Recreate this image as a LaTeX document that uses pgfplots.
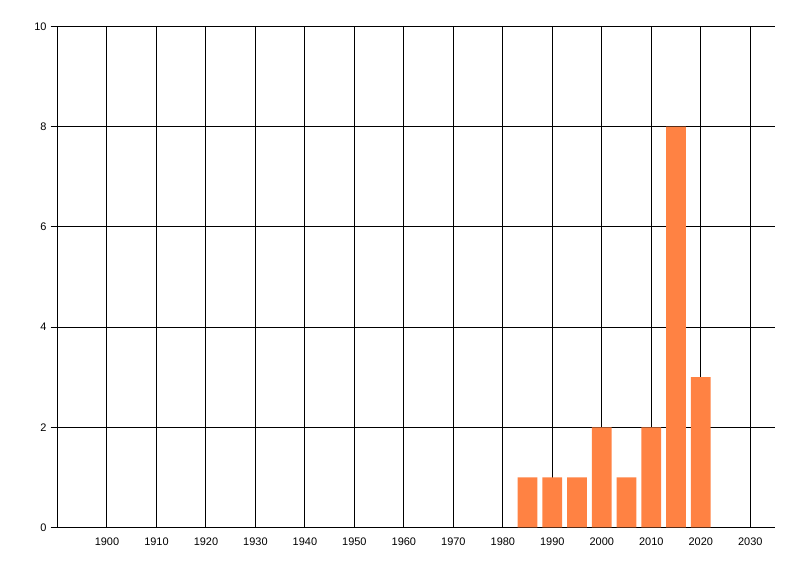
\documentclass[border=0pt]{standalone}
\usepackage{fontspec}
\setmainfont{Liberation Sans}
\usepackage{pgfplots}
\pgfplotsset{compat=1.18}
\definecolor{barorange}{RGB}{255,130,67}
\begin{document}
\begin{tikzpicture}[x=1bp,y=1bp]
\useasboundingbox (0,0) rectangle (800,576);
\begin{axis}[
    at={(57.5bp,48.5bp)},
    anchor=south west,
    scale only axis,
    width=717.5bp,
    height=501bp,
    xmin=1890, xmax=2035,
    ymin=0, ymax=10,
    xtick={1900,1910,...,2030},
    ytick={0,2,...,10},
    axis lines*=left,
    axis line style={-, black, line width=1bp},
    grid=major,
    major grid style={black, line width=1bp},
    xtick style={draw=none},
    ytick style={black, line width=1bp},
    tick align=outside,
    major tick length=7bp,
    ticklabel style={font=\fontsize{11}{13}\selectfont},
    /pgf/number format/assume math mode=true,
    /pgf/number format/1000 sep={},
    xticklabel style={yshift=0bp},
    yticklabel style={xshift=-0.5bp},
    ybar,
    bar width=4,
    bar shift=0pt,
]
\addplot[fill=barorange, draw=none] coordinates {
    (1985,1) (1990,1) (1995,1) (2000,2) (2005,1) (2010,2) (2015,8) (2020,3)
};
\end{axis}
\end{tikzpicture}
\end{document}
